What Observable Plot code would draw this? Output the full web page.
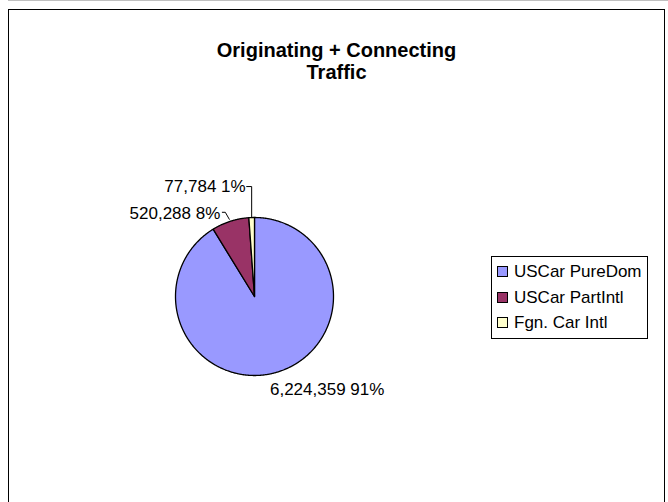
<!DOCTYPE html>
<html><head><meta charset="utf-8">
<script src="https://cdn.jsdelivr.net/npm/d3@7"></script>
<script src="https://cdn.jsdelivr.net/npm/@observablehq/plot@0.6"></script>
<style>
body{margin:0;background:#fff;font-family:Arial,"Liberation Sans",sans-serif;}
#wrap{position:relative;width:668px;height:502px;overflow:hidden;background:#fff}
#topline{position:absolute;left:8px;top:0;width:660px;height:1px;background:#c0c0c0}
#frame{position:absolute;left:8px;top:9px;width:657px;height:520px;border:1.5px solid #000;box-sizing:border-box}
#title{position:absolute;left:8px;width:657px;top:39px;text-align:center;font-weight:bold;font-size:20px;line-height:22px;color:#000}
#chart{position:absolute;left:0;top:0}
#legend{position:absolute;left:491px;top:256px;width:157px;height:83px;border:1px solid #000;box-sizing:border-box;background:#fff}
.row{position:absolute;left:5px;height:20px;font-size:17px;line-height:20px;white-space:nowrap;color:#000}
.sw{display:inline-block;width:9px;height:9px;border:1px solid #000;margin-right:6px;vertical-align:0px}
</style></head>
<body>
<div id="wrap">
  <div id="topline"></div>
  <div id="frame"></div>
  <div id="title">Originating + Connecting<br>Traffic</div>
  <div id="chart"></div>
  <div id="legend"></div>
</div>
<script>
const categories = ["USCar PureDom", "USCar PartIntl", "Fgn. Car Intl"];
const values = [6224359, 520288, 77784];
const colors = ["#9999FF", "#993366", "#FFFFCC"];

const total = d3.sum(values);
const labels = values.map(v => d3.format(",")(v) + " " + Math.round(v / total * 100) + "%");

const arcs = d3.pie().sort(null).value(d => d)(values);
const pxRange = [175, 333];
const unit = 2 / (pxRange[1] - pxRange[0]); // data units per pixel

const polys = arcs.map((p, i) => {
  const n = Math.max(2, Math.ceil((p.endAngle - p.startAngle) / (Math.PI / 360)));
  const pts = [{x: 0, y: 0}];
  for (let k = 0; k <= n; k++) {
    const a = p.startAngle + (p.endAngle - p.startAngle) * k / n;
    pts.push({x: Math.sin(a), y: Math.cos(a)});
  }
  return pts;
});
const mids = arcs.map(p => {
  const a = (p.startAngle + p.endAngle) / 2;
  return {x: Math.sin(a), y: Math.cos(a)};
});

// label layout (pixel offsets from slice edge midpoint)
const labelLayout = [
  {dx: -6, dy: 17, anchor: "start", leader: null},
  {dx: -10, dy: -8, anchor: "end", leader: [[-8, -9], [-5, -9], [-1, -2]]},
  {dx: -6, dy: -31, anchor: "end", leader: [[-5, -31], [0, -31], [0, 0]]}
];

const marks = [];
polys.forEach((pts, i) => {
  marks.push(Plot.line(pts, {x: "x", y: "y", curve: "linear-closed", fill: colors[i], stroke: "#000", strokeWidth: 1.3, strokeLinejoin: "round"}));
});
labelLayout.forEach((L, i) => {
  const m = mids[i];
  if (L.leader) {
    const pts = L.leader.map(([dx, dy]) => ({x: m.x + dx * unit, y: m.y - dy * unit}));
    marks.push(Plot.line(pts, {x: "x", y: "y", stroke: "#000", strokeWidth: 1}));
  }
  marks.push(Plot.text([m], {x: "x", y: "y", text: () => labels[i], dx: L.dx, dy: L.dy, textAnchor: L.anchor, fontSize: 17, fill: "#000"}));
});

const chart = Plot.plot({
  width: 668, height: 502, margin: 0,
  style: {background: "transparent", fontFamily: "Arial, 'Liberation Sans', sans-serif", overflow: "visible"},
  x: {type: "linear", domain: [-1, 1], range: pxRange, axis: null},
  y: {type: "linear", domain: [-1, 1], range: [375, 217], axis: null},
  marks
});
document.getElementById("chart").appendChild(chart);

const legend = document.getElementById("legend");
categories.forEach((c, i) => {
  const row = document.createElement("div");
  row.className = "row";
  row.style.top = (5 + i * 25.5) + "px";
  const sw = document.createElement("span");
  sw.className = "sw";
  sw.style.background = colors[i];
  row.appendChild(sw);
  row.appendChild(document.createTextNode(c));
  legend.appendChild(row);
});
</script>
</body></html>
